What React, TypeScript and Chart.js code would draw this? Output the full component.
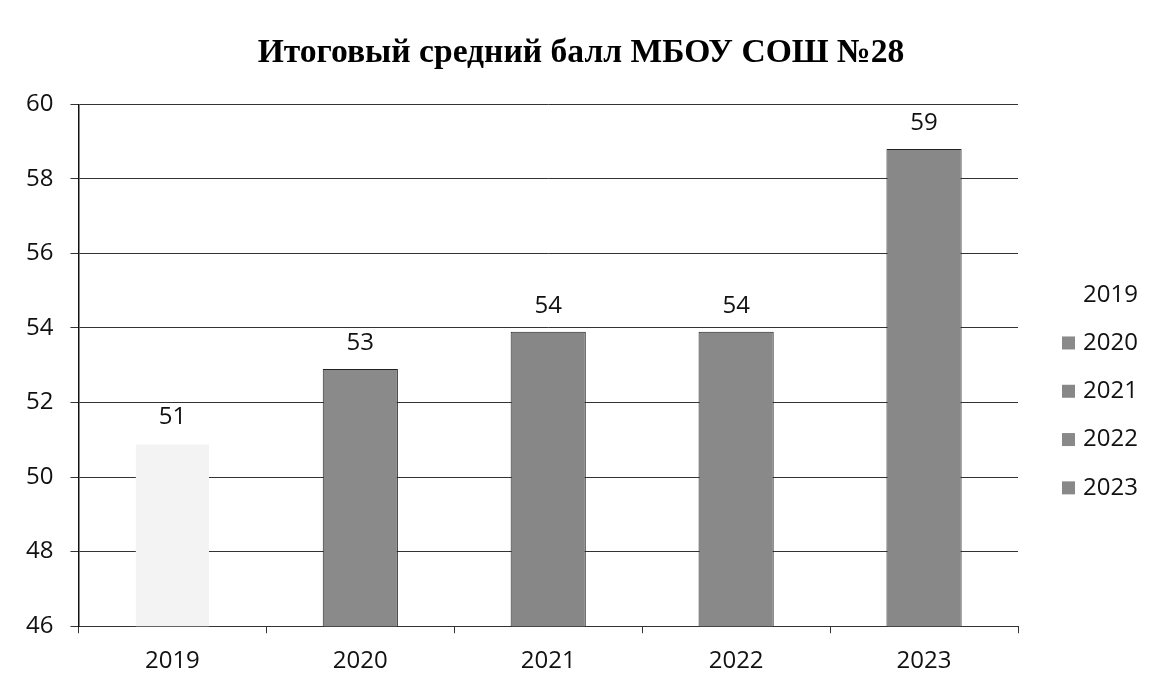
import React, { useEffect, useRef } from "react";
import { Chart, registerables } from "chart.js";

Chart.register(...registerables);

const TITLE = "Итоговый средний балл МБОУ СОШ №28";
const categories = ["2019", "2020", "2021", "2022", "2023"];
const scores = [50.9, 52.9, 53.9, 53.9, 58.8];
const shownLabels = ["51", "53", "54", "54", "59"];
const barColors = ["#f3f3f3", "#8a8a8a", "#878787", "#898989", "#888888"];
const legendColors = ["#ffffff", "#8a8a8a", "#878787", "#898989", "#888888"];
const borderColors = ["rgba(0,0,0,0)", "#222222", "#222222", "#222222", "#222222"];
const yMin = 46;
const yMax = 60;
const yStep = 2;

const FONT = "'Open Sans', 'Noto Sans', sans-serif";
const FONT_SIZE = 24;

const valueLabels = {
  id: "valueLabels",
  afterDatasetsDraw(chart: any) {
    const ctx = chart.ctx;
    const meta = chart.getDatasetMeta(0);
    ctx.save();
    ctx.font = `${FONT_SIZE}px ${FONT}`;
    ctx.fillStyle = "#111111";
    ctx.textAlign = "center";
    ctx.textBaseline = "middle";
    meta.data.forEach((el: any, i: number) => {
      ctx.fillText(shownLabels[i], el.x, el.y - 26);
    });
    ctx.restore();
  },
};

const sideLegend = {
  id: "sideLegend",
  afterDraw(chart: any) {
    const ctx = chart.ctx;
    const area = chart.chartArea;
    const boxX = area.right + 44;
    const textX = boxX + 21;
    const step = 48.3;
    const midY = (area.top + area.bottom) / 2 + 26;
    ctx.save();
    ctx.font = `${FONT_SIZE}px ${FONT}`;
    ctx.textAlign = "left";
    ctx.textBaseline = "middle";
    categories.forEach((c, i) => {
      const y = midY + (i - (categories.length - 1) / 2) * step;
      ctx.fillStyle = legendColors[i];
      ctx.fillRect(boxX, y - 6.5, 13, 13);
      ctx.fillStyle = "#111111";
      ctx.fillText(c, textX, y);
    });
    ctx.restore();
  },
};

export default function App() {
  const ref = useRef<HTMLCanvasElement | null>(null);
  useEffect(() => {
    if (!ref.current) return;
    const chart = new Chart(ref.current, {
      type: "bar",
      data: {
        labels: categories,
        datasets: [
          {
            data: scores,
            backgroundColor: barColors,
            borderColor: borderColors,
            borderWidth: 1,
            categoryPercentage: 1,
            barPercentage: 0.4,
          },
        ],
      },
      options: {
        responsive: false,
        animation: false,
        layout: { padding: { left: 9, right: 6, top: 10, bottom: 1 } },
        plugins: {
          title: {
            display: true,
            text: TITLE,
            color: "#000",
            font: { family: "'Liberation Serif', 'Times New Roman', serif", size: 33.6, weight: "bold" },
            padding: { top: 23, bottom: 31 },
          },
          tooltip: { enabled: false },
          legend: { display: false },
        },
        scales: {
          x: {
            offset: true,
            grid: {
              offset: true,
              drawOnChartArea: false,
              drawTicks: true,
              tickLength: 7,
              color: "#333",
            },
            border: { display: true, color: "#333", width: 1 },
            ticks: { color: "#111", font: { family: FONT, size: FONT_SIZE }, padding: 13.5 },
          },
          y: {
            min: yMin,
            max: yMax,
            ticks: { stepSize: yStep, color: "#111", font: { family: FONT, size: FONT_SIZE }, padding: 17 },
            grid: { color: "#333333", lineWidth: 1, tickLength: 8 },
            border: { display: true, color: "#111", width: 1.5 },
          },
          legendSpace: {
            type: "linear",
            position: "right",
            display: true,
            min: 0,
            max: 1,
            grid: { display: false, drawOnChartArea: false },
            border: { display: false },
            ticks: { display: false },
            afterFit: (s: any) => {
              s.width = 135;
            },
          },
        },
      },
      plugins: [valueLabels, sideLegend],
    });
    return () => chart.destroy();
  }, []);
  return (
    <div style={{ position: "absolute", left: 0, top: 0, width: 1159, height: 690, background: "#fff" }}>
      <canvas ref={ref} width={1159} height={690} style={{ display: "block" }} />
    </div>
  );
}
